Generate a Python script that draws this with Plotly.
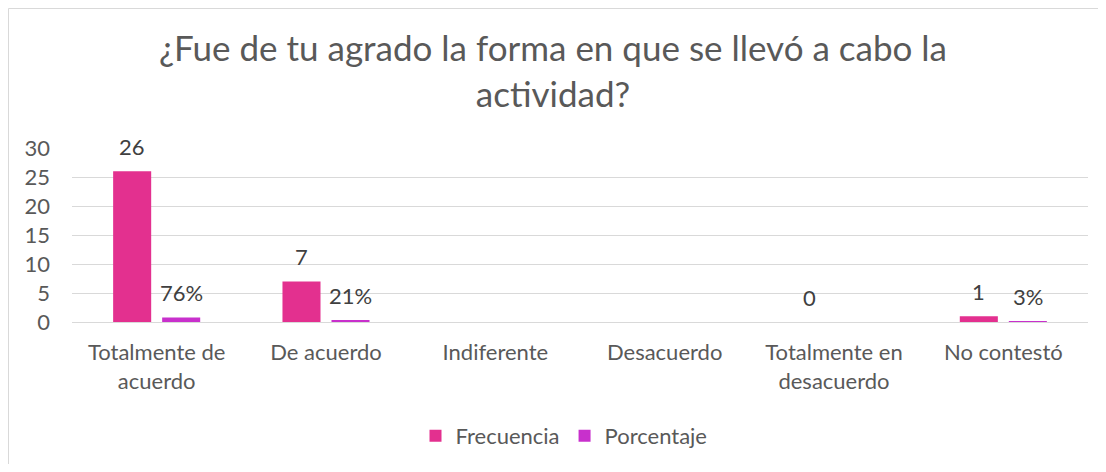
import plotly.graph_objects as go

categories = ["Totalmente de<br>acuerdo", "De acuerdo", "Indiferente", "Desacuerdo",
              "Totalmente en<br>desacuerdo", "No contestó"]
frecuencia = [26, 7, None, None, 0, 1]
porcentaje = [0.76, 0.21, None, None, None, 0.03]
title_text = "¿Fue de tu agrado la forma en que se llevó a cabo la<br>actividad?"

# page body has an 8px margin; internal coordinates are screen - 8
W, H = 1090, 456
L, R, T, B = 64, 10, 140, 142
pw = W - L - R
ph = H - T - B

FONT = "Lato, Carlito, Calibri, sans-serif"
GRAY = "#595959"
LABEL = "#404040"
FS = 22

fig = go.Figure()
fig.add_trace(go.Bar(
    name="Frecuencia", x=categories, y=frecuencia,
    marker=dict(color="#E3308F", line=dict(width=0)),
))
fig.add_trace(go.Bar(
    name="Porcentaje", x=categories, y=porcentaje,
    marker=dict(color="#C830CC", line=dict(width=0)),
))

# data labels placed from the data values
for cat, v in zip(categories, frecuencia):
    if v is not None:
        fig.add_annotation(x=cat, y=v, xref="x", yref="y", text=str(v), showarrow=False,
                           xshift=-24.5, yshift=25, yanchor="middle",
                           font=dict(family=FONT, size=FS, color=LABEL))
for cat, v in zip(categories, porcentaje):
    if v is not None:
        fig.add_annotation(x=cat, y=v, xref="x", yref="y", text=f"{round(v*100)}%",
                           showarrow=False, xshift=24.5, yshift=25, yanchor="middle",
                           font=dict(family=FONT, size=FS, color=LABEL))

def px2x(px):
    return (px - L) / pw

def py2y(py):
    return (H - B - py) / ph

# chart frame: left and top edges
fig.add_shape(type="line", xref="paper", yref="paper",
              x0=px2x(0.5), x1=px2x(0.5), y0=py2y(H), y1=py2y(0.5),
              line=dict(color="#D9D9D9", width=1), layer="below")
fig.add_shape(type="line", xref="paper", yref="paper",
              x0=px2x(0.5), x1=px2x(W), y0=py2y(0.5), y1=py2y(0.5),
              line=dict(color="#D9D9D9", width=1), layer="below")

fig.update_layout(
    width=W, height=H,
    margin=dict(l=L, r=R, t=T, b=B, autoexpand=False),
    paper_bgcolor="white", plot_bgcolor="white",
    title=dict(text=title_text, x=0.5, xref="container", xanchor="center",
               y=1 - 53 / H, yanchor="top",
               font=dict(family=FONT, size=35, color=GRAY)),
    barmode="group", bargap=0.421, bargroupgap=0.224,
    showlegend=True,
    legend=dict(orientation="h", x=px2x(556), xanchor="center", y=py2y(428), yanchor="middle",
                font=dict(family=FONT, size=FS, color=GRAY),
                itemwidth=30, tracegroupgap=0),
    yaxis=dict(range=[0, 30], dtick=5, showgrid=True, gridcolor="#D9D9D9", gridwidth=1,
               zeroline=True, zerolinecolor="#D9D9D9", zerolinewidth=1,
               showline=False, ticks="", ticklabelstandoff=21,
               tickfont=dict(family=FONT, size=FS, color=GRAY)),
    xaxis=dict(showline=False, ticks="", showgrid=False, ticklabelstandoff=15,
               tickfont=dict(family=FONT, size=FS, color=GRAY)),
    font=dict(family=FONT, color=GRAY),
)

fig.write_html("out.html")
